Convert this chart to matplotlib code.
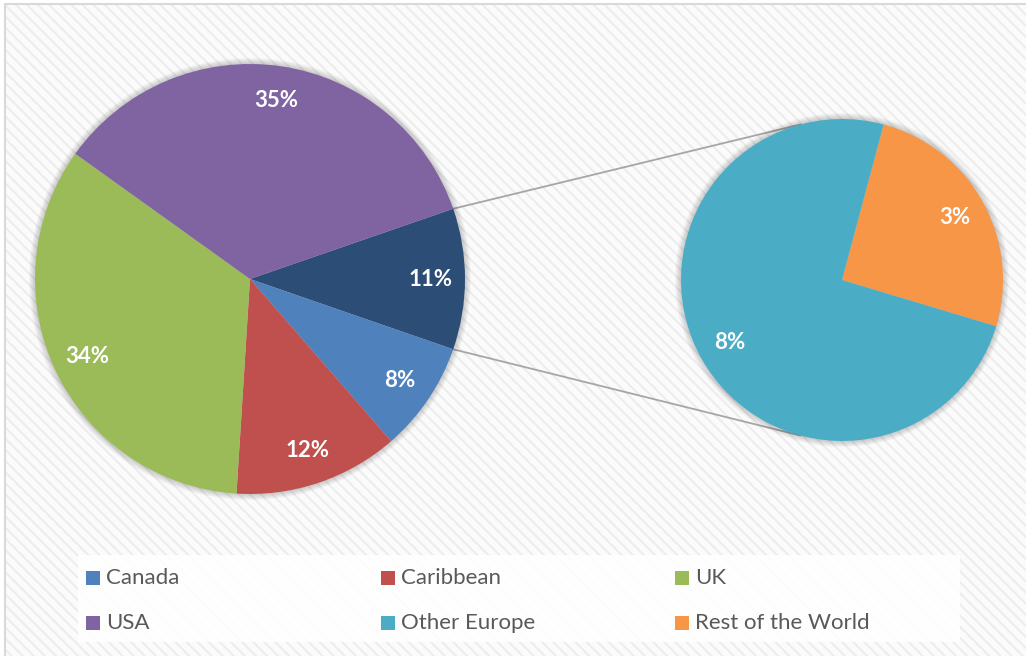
import matplotlib.pyplot as plt
from matplotlib.patches import Rectangle, Circle, ConnectionPatch
import numpy as np

plt.rcParams['font.family'] = ['Lato', 'DejaVu Sans']
plt.rcParams['hatch.linewidth'] = 1.4

# main pie (clockwise after the split-out slice)
main_labels = ['Canada', 'Caribbean', 'UK', 'USA']
main_values = [8.3, 12.4, 33.9, 34.8]
main_colors = ['#4F81BD', '#C0504D', '#9BBB59', '#8064A2']

# secondary pie (the split-out "other" slice)
sub_labels = ['Other Europe', 'Rest of the World']
sub_values = [7.9, 2.7]
sub_colors = ['#4BACC6', '#F79646']
other_color = '#2C4D75'

legend_order = ['Canada', 'Caribbean', 'UK', 'USA', 'Other Europe', 'Rest of the World']
legend_colors = dict(zip(main_labels + sub_labels, main_colors + sub_colors))

grand = sum(main_values) + sum(sub_values)
other = sum(sub_values)

W, H = 1026, 656
fig = plt.figure(figsize=(W / 100, H / 100), dpi=100)

# striped chart area + light border
bg = Rectangle((5 / W, 0), 1.1, (H - 4) / H, transform=fig.transFigure,
               facecolor='#fbfbfb', edgecolor='#ececec', hatch='\\\\\\', linewidth=0, zorder=0)
fig.patches.append(bg)
border = Rectangle((5 / W, -0.1), 1.1, (H - 4) / H + 0.1, transform=fig.transFigure,
                   facecolor='none', edgecolor='#d9d9d9', linewidth=1.5, zorder=1)
fig.patches.append(border)


def px_axes(cx, cy, r):
    return fig.add_axes([(cx - r) / W, (H - cy - r) / H, 2 * r / W, 2 * r / H])


def add_glow(ax, r):
    # soft shadow, about 6 px wide
    for k in range(6):
        ax.add_patch(Circle((0, 0), 1 + (k + 1) / r, facecolor='#000000',
                            alpha=0.03, linewidth=0, clip_on=False, zorder=0))


# main pie
ax1 = px_axes(250, 279, 215)
ax1.set_zorder(2)
vals1 = [other] + main_values
cols1 = [other_color] + main_colors
add_glow(ax1, 215)
ax1.pie(vals1, colors=cols1, startangle=other / grand * 180, counterclock=False,
        radius=1, wedgeprops=dict(linewidth=0, zorder=2),
        autopct=lambda p: f'{p:.0f}%', pctdistance=0.84,
        textprops=dict(color='white', fontsize=16, fontweight='bold'))
ax1.set_xlim(-1, 1)
ax1.set_ylim(-1, 1)
ax1.set_aspect('equal')
ax1.axis('off')

# secondary pie
ax2 = px_axes(842, 280, 161)
ax2.set_zorder(2)
vals2 = [sub_values[1], sub_values[0]]
cols2 = [sub_colors[1], sub_colors[0]]
scale = other / grand
add_glow(ax2, 161)
ax2.pie(vals2, colors=cols2, startangle=75, counterclock=False,
        radius=1, wedgeprops=dict(linewidth=0, zorder=2),
        autopct=lambda p: f'{p * scale:.0f}%', pctdistance=0.8,
        textprops=dict(color='white', fontsize=16, fontweight='bold'))
ax2.set_xlim(-1, 1)
ax2.set_ylim(-1, 1)
ax2.set_aspect('equal')
ax2.axis('off')

# connector lines
half = np.deg2rad(other / grand * 180)
for sgn, ang in [(1, 105), (-1, 255)]:
    a = np.deg2rad(ang)
    con = ConnectionPatch(xyA=(np.cos(half), sgn * np.sin(half)), coordsA=ax1.transData,
                          xyB=(np.cos(a), np.sin(a)), coordsB=ax2.transData,
                          color='#a6a6a6', linewidth=1.3, zorder=1)
    fig.add_artist(con)

# legend box
fig.patches.append(Rectangle((78 / W, (H - 642) / H), (960 - 78) / W, (642 - 555) / H,
                             transform=fig.transFigure, facecolor='white', alpha=0.88,
                             linewidth=0, zorder=1))
col_x = [86, 381, 675]
row_y = [578, 623]
for i, name in enumerate(legend_order):
    x = col_x[i % 3]
    y = row_y[i // 3]
    fig.patches.append(Rectangle((x / W, (H - y - 7) / H), 14 / W, 14 / H,
                                 transform=fig.transFigure, facecolor=legend_colors[name],
                                 linewidth=0, zorder=2))
    fig.text((x + 20) / W, (H - y) / H, name, fontsize=16, color='#595959',
             va='center', ha='left', zorder=3)

plt.savefig('out.png', dpi=100)
